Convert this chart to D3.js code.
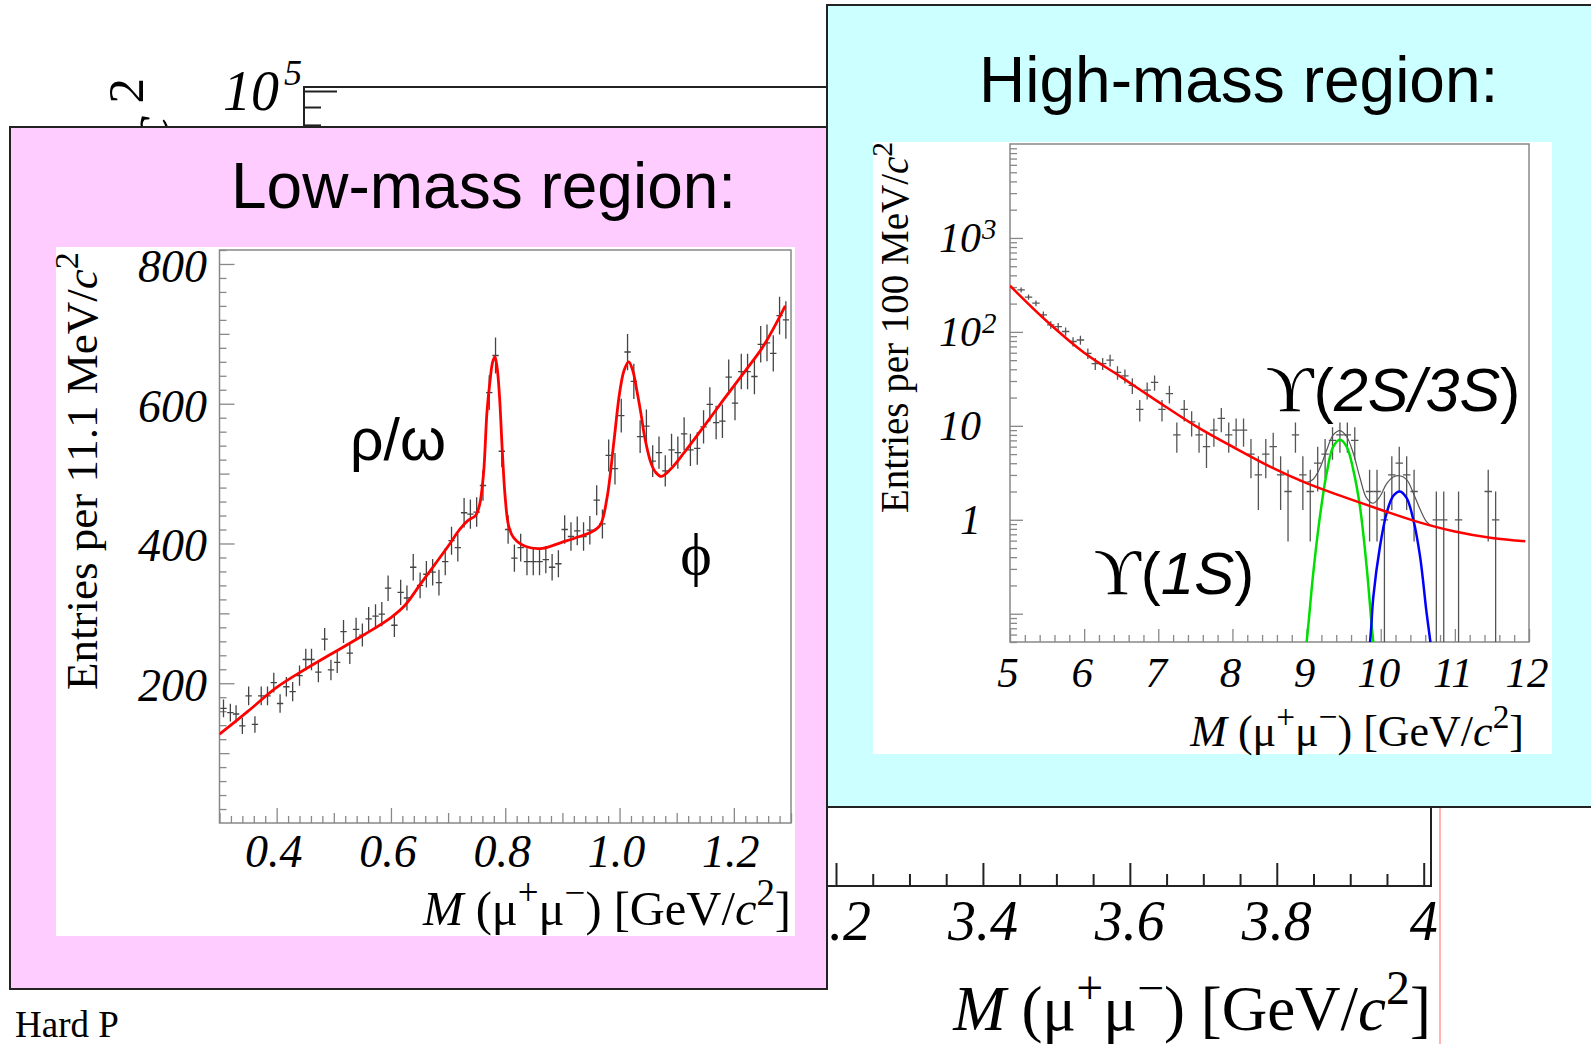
<!DOCTYPE html>
<html><head><meta charset="utf-8">
<script src="https://cdn.jsdelivr.net/npm/d3@7"></script>
<style>body{margin:0;background:#fff}svg{display:block}</style>
</head><body>
<svg id="c" width="1591" height="1044"></svg>
<script>
// ---------------- DATA ----------------
// Low-mass region (11.1 MeV bins)
const lowX = [0.307,0.319,0.329,0.340,0.351,0.362,0.373,0.384,0.395,0.406,
0.417,0.428,0.440,0.451,0.461,0.473,0.484,0.495,0.506,0.517,
0.528,0.539,0.550,0.561,0.573,0.584,0.595,0.606,0.617,0.628,
0.639,0.651,0.662,0.673,0.684,0.695,0.706,0.717,0.728,0.739,
0.750,0.761,0.772,0.783,0.794,0.805,0.816,0.827,0.838,0.849,
0.860,0.871,0.882,0.893,0.904,0.915,0.926,0.937,0.948,0.960,
0.970,0.981,0.992,1.003,1.014,1.025,1.036,1.047,1.058,1.069,
1.080,1.091,1.102,1.113,1.124,1.136,1.147,1.158,1.169,1.180,
1.191,1.202,1.213,1.224,1.236,1.247,1.258,1.269,1.280,1.291];
const lowY = [164,158,156,139,182,141,182,182,201,171,
195,188,211,234,234,216,263,219,230,274,
243,277,269,292,296,299,336,283,330,322,
366,340,356,359,344,374,404,394,444,442,
445,483,616,669,532,420,379,394,374,374,
374,377,366,371,420,410,418,410,419,462,
428,526,507,583,674,632,553,568,518,530,
504,534,530,557,534,536,567,599,573,575,
638,601,646,646,639,685,687,672,726,720];
const lowFitX = [0.300,0.350,0.400,0.450,0.500,0.550,0.600,0.625,0.650,0.675,0.700,0.720,0.735,0.748,0.755,0.762,0.768,0.773,0.778,0.782,0.786,0.790,0.795,0.800,0.806,0.815,0.835,0.865,0.900,0.930,0.950,0.966,0.978,0.990,1.000,1.008,1.016,1.023,1.030,1.037,1.045,1.055,1.063,1.073,1.090,1.113,1.148,1.183,1.218,1.252,1.290];
const lowFitY = [127,160,194,220,244,268,294,312,340,368,396,420,433,440,455,500,588,630,660,667,650,610,530,465,425,408,396,393,402,410,416,426,465,545,615,648,660,648,620,588,548,515,502,496,507,530,568,607,645,683,740];

// High-mass region (100 MeV bins)
const highX = [5.15,5.25,5.35,5.45,5.55,5.65,5.75,5.85,5.95,6.05,6.15,6.25,6.35,6.45,6.55,6.65,6.75,6.85,6.95,7.05,7.15,7.25,7.35,7.45,7.55,7.65,7.75,7.85,7.95,8.05,8.15,8.25,8.35,8.45,8.55,8.65,8.75,8.85,8.95,9.05,9.15,9.25,9.35,9.45,9.55,9.65,9.85,9.95,10.05,10.15,10.25,10.35,10.45,10.75,10.85,11.05,11.45,11.55];
const highY = [280,235,202,152,119,114,101,79,82,59,46,46,50,37,34,27,15,24,29,15,22,8,15,11,8,6,9,12,8,9,9,5,3,5,6,3,2,8,3,2,4,5,7,8,8,7,2,2,1,3,4,3,2,1,1,1,2,1];
const bkgX = [5.0,5.5,6.0,6.5,7.0,7.5,8.0,8.5,9.0,9.5,10.0,10.5,11.0,11.5,11.95];
const bkgY = [310,129,60,33,18,10,6.0,3.7,2.45,1.75,1.28,0.95,0.75,0.64,0.59];
const ups1X = [8.97,9.0,9.09,9.18,9.27,9.36,9.45,9.54,9.63,9.72,9.81,9.90,9.93];
const ups1Y = [0.035,0.05,0.27,1.08,3.1,6.0,7.1,6.0,3.4,1.38,0.32,0.05,0.035];
const ups23X = [9.84,9.87,9.90,9.99,10.08,10.17,10.26,10.35,10.44,10.53,10.62,10.67,10.70];
const ups23Y = [0.035,0.068,0.15,0.52,1.18,1.8,2.0,1.7,1.0,0.41,0.10,0.05,0.035];
const totX = [8.90,9.0,9.09,9.18,9.27,9.36,9.45,9.54,9.63,9.72,9.81,9.90,9.99,10.08,10.17,10.26,10.35,10.44,10.53,10.62,10.70];
const totY = [2.6,2.5,2.7,3.55,5.5,8.0,8.9,7.7,5.1,2.8,1.7,1.5,1.77,2.42,2.85,2.94,2.67,1.92,1.3,0.95,0.85];

// Tick labels
const lowXTicks = [0.4,0.6,0.8,1.0,1.2];
const lowXTickLabels = ["0.4","0.6","0.8","1.0","1.2"];
const lowYTicks = [200,400,600,800];
const lowYTickLabels = ["200","400","600","800"];
const highXTicks = [5,6,7,8,9,10,11,12];
const highXTickLabels = ["5","6","7","8","9","10","11","12"];
const highYTicks = [1,10,100,1000];
const highYTickBase = ["1","10","10","10"];
const highYTickExp = ["","","2","3"];
const bgXTicks = [3.2,3.4,3.6,3.8,4.0];
const bgXTickLabels = ["3.2","3.4","3.6","3.8","4"];

// ---------------- DRAW ----------------
const SERIF = '"Liberation Serif","Times New Roman",serif';
const SANS = '"Liberation Sans",Arial,sans-serif';
const svg = d3.select("#c");

function rich(g, x, y, parts, fs, anchor, family, supScale) {
  const ss = supScale || 0.76;
  const t = g.append("text").attr("x", x).attr("y", y)
    .attr("font-size", fs).attr("font-family", family || SERIF)
    .attr("text-anchor", anchor || "start").attr("fill", "#000")
    .style("white-space", "pre");
  let shifted = false;
  parts.forEach(p => {
    const s = t.append("tspan").text(p.t);
    if (p.i) s.attr("font-style", "italic");
    if (p.f) s.attr("font-family", p.f);
    if (p.big) s.attr("font-size", fs * p.big);
    if (p.dx) s.attr("dx", p.dx);
    if (p.sup) { s.attr("font-size", fs * ss); if (!shifted) s.attr("dy", -fs * 0.42); shifted = true; }
    else if (shifted) { s.attr("dy", fs * 0.42); shifted = false; }
  });
  return t;
}
const massParts = [{t:"M",i:true},{t:" (μ"},{t:"+",sup:true},{t:"μ"},{t:"−",sup:true},{t:") [GeV/"},{t:"c",i:true},{t:"2",sup:true},{t:"]"}];

function ticksBottom(g, scale, vals, y, len, color, w) {
  const a = g.append("g").attr("transform", `translate(0,${y})`)
    .call(d3.axisBottom(scale).tickValues(vals).tickSize(-len).tickFormat(""));
  a.select(".domain").remove();
  a.selectAll("line").attr("stroke", color).attr("stroke-width", w);
}
function ticksLeft(g, scale, vals, x, len, color, w) {
  const a = g.append("g").attr("transform", `translate(${x},0)`)
    .call(d3.axisLeft(scale).tickValues(vals).tickSize(-len).tickFormat(""));
  a.select(".domain").remove();
  a.selectAll("line").attr("stroke", color).attr("stroke-width", w);
}
const near = (a, b) => Math.abs(a - b) < 1e-6;

// ===== Background chart =====
const bg = svg.append("g");
const bgX = d3.scaleLinear([3.2, 4.0], [836, 1423.7]);
const bgY = d3.scaleLog([1e4, 1e5], [441, 91]);
bg.append("rect").attr("x", 304).attr("y", 87).attr("width", 1127).attr("height", 799)
  .attr("fill", "none").attr("stroke", "#222").attr("stroke-width", 2);
const bgMinor = d3.range(0, 25).map(i => +(2.8 + i * 0.05).toFixed(2)).filter(v => !bgXTicks.some(t => near(t, v)));
ticksBottom(bg, bgX, bgMinor, 886, 12, "#222", 2);
ticksBottom(bg, bgX, bgXTicks, 886, 23, "#222", 2);
ticksLeft(bg, bgY, [1e5], 304, 33, "#222", 2);
ticksLeft(bg, bgY, [9e4, 8e4, 7e4, 6e4, 5e4], 304, 17, "#222", 2);
bgXTicks.forEach((v, i) => {
  bg.append("text").attr("x", bgX(v)).attr("y", 940).attr("text-anchor", "middle")
    .attr("font-family", SERIF).attr("font-style", "italic").attr("font-size", 56).text(bgXTickLabels[i]);
});
bg.append("text").attr("x", 279).attr("y", 110).attr("text-anchor", "end")
  .attr("font-family", SERIF).attr("font-style", "italic").attr("font-size", 56).text("10");
bg.append("text").attr("x", 284).attr("y", 85).attr("font-family", SERIF)
  .attr("font-style", "italic").attr("font-size", 36).text("5");
const bgYT = bg.append("g").attr("transform", "translate(168,78) rotate(-90)");
rich(bgYT, 0, 0, [{t:"Entries per 10 MeV/"},{t:"c",i:true},{t:"2",sup:true,dx:12}], 60, "end", SERIF, 0.85);
rich(bg, 1431, 1030, massParts, 63, "end");
bg.append("line").attr("x1", 1440).attr("x2", 1440).attr("y1", 807).attr("y2", 1044)
  .attr("stroke", "#ff8080").attr("stroke-width", 1.2);
bg.append("text").attr("x", 15).attr("y", 1037).attr("font-family", SERIF).attr("font-size", 37).text("Hard P");

// ===== Low-mass panel =====
const lp = svg.append("g");
lp.append("rect").attr("x", 10).attr("y", 127).attr("width", 817).attr("height", 862)
  .attr("fill", "#FFCCFF").attr("stroke", "#222").attr("stroke-width", 2);
lp.append("text").attr("x", 231).attr("y", 208).attr("font-family", SANS).attr("font-size", 64).text("Low-mass region:");
lp.append("rect").attr("x", 56).attr("y", 247).attr("width", 739).attr("height", 689).attr("fill", "#fff");
const lx = d3.scaleLinear([0.3, 1.3], [219.5, 791]);
const ly = d3.scaleLinear([0, 820], [823, 250]);
svg.append("defs").append("clipPath").attr("id", "clipL").append("rect")
  .attr("x", 219.5).attr("y", 250).attr("width", 571.5).attr("height", 573);
const lxAll = d3.range(0, 51).map(i => +(0.3 + i * 0.02).toFixed(2));
const lxMaj = lxAll.filter(v => lowXTicks.some(t => near(t, v)));
const lxMed = lxAll.filter(v => !lxMaj.includes(v) && near(v * 10, Math.round(v * 10)));
const lxMin = lxAll.filter(v => !lxMaj.includes(v) && !lxMed.includes(v));
ticksBottom(lp, lx, lxMin, 823, 7, "#888", 1.3);
ticksBottom(lp, lx, lxMed, 823, 10, "#888", 1.3);
ticksBottom(lp, lx, lxMaj, 823, 15, "#888", 1.3);
const lyAll = d3.range(0, 42).map(i => i * 20);
const lyMaj = lyAll.filter(v => v % 200 === 0 && v > 0);
const lyMed = lyAll.filter(v => v % 100 === 0 && v % 200 !== 0);
const lyMin = lyAll.filter(v => v % 100 !== 0);
ticksLeft(lp, ly, lyMin, 219.5, 7, "#888", 1.3);
ticksLeft(lp, ly, lyMed, 219.5, 10, "#888", 1.3);
ticksLeft(lp, ly, lyMaj, 219.5, 15, "#888", 1.3);
lp.append("rect").attr("x", 219.5).attr("y", 250).attr("width", 571.5).attr("height", 573)
  .attr("fill", "none").attr("stroke", "#888").attr("stroke-width", 1.5);
lowXTicks.forEach((v, i) => lp.append("text").attr("x", lx(v) - 3).attr("y", 867).attr("text-anchor", "middle")
  .attr("font-family", SERIF).attr("font-style", "italic").attr("font-size", 46).text(lowXTickLabels[i]));
lowYTicks.forEach((v, i) => lp.append("text").attr("x", 207).attr("y", ly(v) + 18).attr("text-anchor", "end")
  .attr("font-family", SERIF).attr("font-style", "italic").attr("font-size", 46).text(lowYTickLabels[i]));
rich(lp, 791, 925, massParts, 48.5, "end");
const lyT = lp.append("g").attr("transform", "translate(97,690) rotate(-90)");
rich(lyT, 0, 0, [{t:"Entries per 11.1 MeV/"},{t:"c",i:true},{t:"2",sup:true}], 45, "start");
const lData = lp.append("g").attr("clip-path", "url(#clipL)");
const lhb = 0.0111 / 2;
d3.zip(lowX, lowY).forEach(([x, v]) => {
  const e = Math.sqrt(v);
  lData.append("path").attr("d", `M${lx(x)},${ly(v - e)}V${ly(v + e)}M${lx(x - lhb)},${ly(v)}H${lx(x + lhb)}`)
    .attr("stroke", "#444").attr("stroke-width", 1.3).attr("fill", "none");
});
const lLine = d3.line().x(d => lx(d[0])).y(d => ly(d[1])).curve(d3.curveCatmullRom.alpha(0.5));
lData.append("path").attr("d", lLine(d3.zip(lowFitX, lowFitY))).attr("fill", "none")
  .attr("stroke", "#ff0000").attr("stroke-width", 2.8);
lp.append("text").attr("x", 350).attr("y", 460).attr("font-family", SANS).attr("font-size", 59).text("ρ/ω");
lp.append("text").attr("x", 696).attr("y", 574).attr("text-anchor", "middle").attr("font-family", SERIF).attr("font-size", 60).text("ϕ");

// ===== High-mass panel =====
const hp = svg.append("g");
hp.append("rect").attr("x", 827).attr("y", 5).attr("width", 780).attr("height", 802)
  .attr("fill", "#CCFFFF").attr("stroke", "#222").attr("stroke-width", 2);
hp.append("text").attr("x", 979).attr("y", 102).attr("font-family", SANS).attr("font-size", 64).text("High-mass region:");
hp.append("rect").attr("x", 873).attr("y", 142).attr("width", 679).attr("height", 612).attr("fill", "#fff");
const hx = d3.scaleLinear([5, 12], [1010, 1529]);
const hy = d3.scaleLog([0.05, 1e4], [642, 144]);
svg.select("defs").append("clipPath").attr("id", "clipH").append("rect")
  .attr("x", 1010).attr("y", 144).attr("width", 519).attr("height", 498);
const hxAll = d3.range(0, 36).map(i => +(5 + i * 0.2).toFixed(1));
ticksBottom(hp, hx, hxAll.filter(v => !near(v, Math.round(v))), 642, 7, "#888", 1.3);
ticksBottom(hp, hx, highXTicks, 642, 13, "#888", 1.3);
const hyMin = [], hyMaj = [];
[-2, -1, 0, 1, 2, 3].forEach(k => {
  for (let m = 1; m <= 9; m++) {
    const v = m * Math.pow(10, k);
    if (v < 0.05 || v > 1e4) continue;
    (m === 1 ? hyMaj : hyMin).push(v);
  }
});
ticksLeft(hp, hy, hyMin, 1010, 7, "#888", 1.3);
ticksLeft(hp, hy, hyMaj, 1010, 13, "#888", 1.3);
hp.append("rect").attr("x", 1010).attr("y", 144).attr("width", 519).attr("height", 498)
  .attr("fill", "none").attr("stroke", "#888").attr("stroke-width", 1.5);
highXTicks.forEach((v, i) => hp.append("text").attr("x", hx(v) - 2).attr("y", 687).attr("text-anchor", "middle")
  .attr("font-family", SERIF).attr("font-style", "italic").attr("font-size", 43).text(highXTickLabels[i]));
highYTicks.forEach((v, i) => {
  hp.append("text").attr("x", 981).attr("y", hy(v) + 14).attr("text-anchor", "end")
    .attr("font-family", SERIF).attr("font-style", "italic").attr("font-size", 42).text(highYTickBase[i]);
  if (highYTickExp[i]) hp.append("text").attr("x", 982).attr("y", hy(v) + 1)
    .attr("font-family", SERIF).attr("font-style", "italic").attr("font-size", 29).text(highYTickExp[i]);
});
rich(hp, 1524, 746, massParts, 44, "end");
const hyT = hp.append("g").attr("transform", "translate(908,513) rotate(-90)");
rich(hyT, 0, 0, [{t:"Entries per 100 MeV/"},{t:"c",i:true},{t:"2",sup:true}], 39, "start");
const hData = hp.append("g").attr("clip-path", "url(#clipH)");
d3.zip(highX, highY).forEach(([x, v]) => {
  const e = Math.sqrt(v);
  const lo = v - e > 0.05 ? v - e : 0.05;
  hData.append("path").attr("d", `M${hx(x)},${hy(lo)}V${hy(v + e)}M${hx(x - 0.05)},${hy(v)}H${hx(x + 0.05)}`)
    .attr("stroke", "#555").attr("stroke-width", 1.3).attr("fill", "none");
});
const hLine = d3.line().x(d => hx(d[0])).y(d => hy(d[1])).curve(d3.curveCatmullRom.alpha(0.5));
hData.append("path").attr("d", hLine(d3.zip(totX, totY))).attr("fill", "none").attr("stroke", "#555").attr("stroke-width", 1.2);
hData.append("path").attr("d", hLine(d3.zip(ups1X, ups1Y))).attr("fill", "none").attr("stroke", "#00e000").attr("stroke-width", 2.5);
hData.append("path").attr("d", hLine(d3.zip(ups23X, ups23Y))).attr("fill", "none").attr("stroke", "#0000ff").attr("stroke-width", 2.5);
hData.append("path").attr("d", hLine(d3.zip(bkgX, bkgY))).attr("fill", "none").attr("stroke", "#ff0000").attr("stroke-width", 2.5);
rich(hp, 1266, 411, [{t:"ϒ",f:SERIF,big:1.08},{t:"("},{t:"2S/3S",i:true},{t:")"}], 61, "start", SANS);
rich(hp, 1094, 594, [{t:"ϒ",f:SERIF,big:1.08},{t:"("},{t:"1S",i:true},{t:")"}], 60, "start", SANS);
</script>
</body></html>
